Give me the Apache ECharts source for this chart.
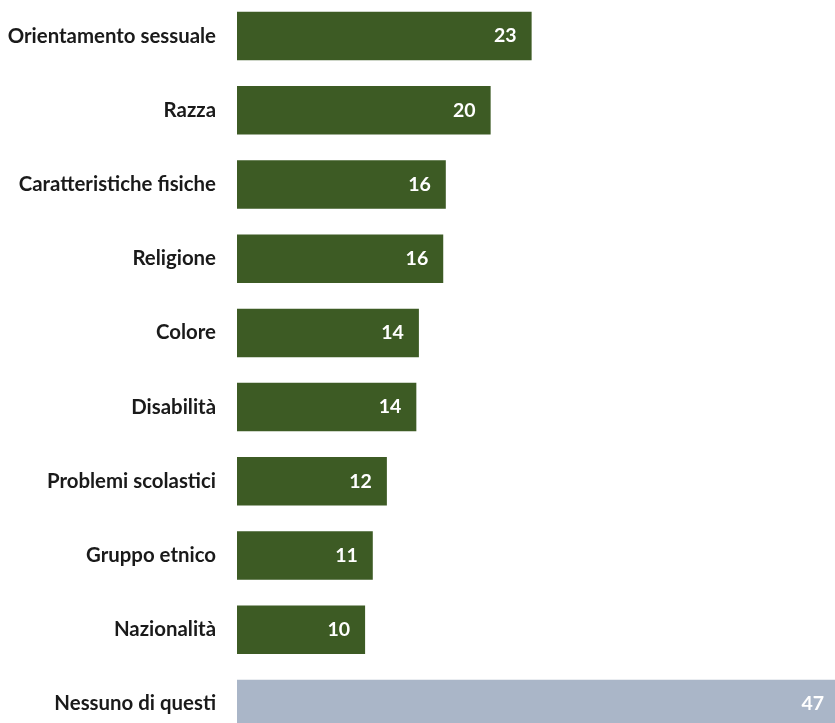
<!DOCTYPE html>
<html>
<head>
<meta charset="utf-8">
<script src="https://cdn.jsdelivr.net/npm/echarts@6/dist/echarts.min.js"></script>
<style>
html,body{margin:0;padding:0;background:#fff;overflow:hidden;width:835px;height:723px;}
#chart{position:absolute;left:0;top:-1px;width:900px;height:760px;}
</style>
</head>
<body>
<div id="chart"></div>
<script>
var categories = ["Orientamento sessuale","Razza","Caratteristiche fisiche","Religione","Colore","Disabilità","Problemi scolastici","Gruppo etnico","Nazionalità","Nessuno di questi"];
var values = [23.0, 19.8, 16.3, 16.1, 14.2, 14.0, 11.7, 10.6, 10.0, 47];
var highlightIndex = 9;

var chart = echarts.init(document.getElementById('chart'));
var data = values.map(function(v, i){
  return {value: v, itemStyle: {color: i === highlightIndex ? '#aab6c8' : '#3d5b24'}};
});
chart.setOption({
  animation: false,
  grid: {left: 237, top: 0, height: 742, width: 640.5, containLabel: false},
  xAxis: {type: 'value', min: 0, max: 50, show: false},
  yAxis: {
    type: 'category', data: categories, inverse: true,
    axisLine: {show: false}, axisTick: {show: false},
    axisLabel: {margin: 21, fontFamily: 'Lato', fontWeight: 'bold', fontSize: 20.4, color: '#1a1a1a'}
  },
  series: [{
    type: 'bar', data: data, barCategoryGap: '34.6%',
    label: {
      show: true, position: 'insideRight', distance: 15,
      fontFamily: 'Lato', fontWeight: 'bold', fontSize: 19.5, color: '#ffffff',
      formatter: function(p){ return Math.round(p.value); }
    }
  }]
});
</script>
</body>
</html>
